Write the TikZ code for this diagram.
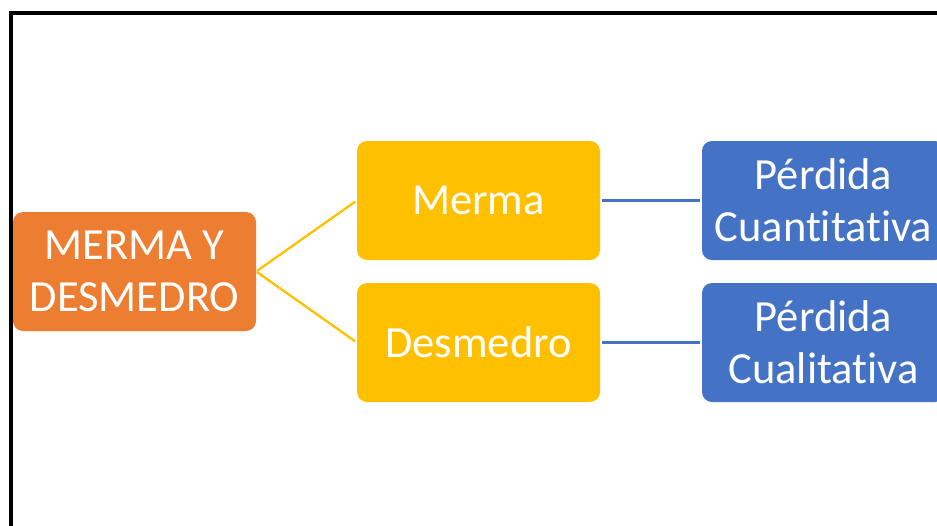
\documentclass[tikz,border=0pt]{standalone}
\usepackage{fontspec}
\setmainfont{Carlito}[Ligatures=NoCommon]
\definecolor{mermaorange}{HTML}{ED7D31}
\definecolor{mermayellow}{HTML}{FFC000}
\definecolor{mermablue}{HTML}{4472C4}
\tikzset{
  box/.style={rounded corners=10pt, minimum width=243pt, minimum height=119pt,
    inner sep=0pt, text=white, align=center, font=\fontsize{44.5}{52}\selectfont},
  link/.style={line width=2.3pt},
}
\begin{document}
\begin{tikzpicture}[x=1pt,y=-1pt]
      \useasboundingbox (0,0) rectangle (937,525);
      \clip (0,0) rectangle (937,525);

      %%%%%%%%%%%%%%%%%%%%%%%%%%%%%%%%%%%%%%%%%%%%%%%%%%%%%%%%%%%%%%%%%%%%%%%%%%%
      %%%%  Frame
      \draw[line width=4pt] (11,530) -- (11,12.5) -- (945,12.5);

      %%%%%%%%%%%%%%%%%%%%%%%%%%%%%%%%%%%%%%%%%%%%%%%%%%%%%%%%%%%%%%%%%%%%%%%%%%%
      %%%%  Boxes
      \node[box,fill=mermaorange] (root) at (134.5,271.5) {MERMA Y\\DESMEDRO};
      \node[box,fill=mermayellow] (merma) at (478.5,200.5) {Merma};
      \node[box,fill=mermayellow] (desmedro) at (478.5,342.5) {Desmedro};
      \node[box,fill=mermablue] (cuanti) at (823.5,200.5) {Pérdida\\Cuantitativa};
      \node[box,fill=mermablue] (cuali) at (823.5,342.5) {Pérdida\\Cualitativa};

      %%%%%%%%%%%%%%%%%%%%%%%%%%%%%%%%%%%%%%%%%%%%%%%%%%%%%%%%%%%%%%%%%%%%%%%%%%%
      %%%%  Links
      \foreach \to in {merma,desmedro}
       {\draw[link,mermayellow,shorten <=1pt,shorten >=2pt] (root.east) -- (\to.west);};
      \draw[link,mermablue,shorten <=2pt,shorten >=2pt] (merma.east) -- (cuanti.west);
      \draw[link,mermablue,shorten <=2pt,shorten >=2pt] (desmedro.east) -- (cuali.west);
\end{tikzpicture}
\end{document}
